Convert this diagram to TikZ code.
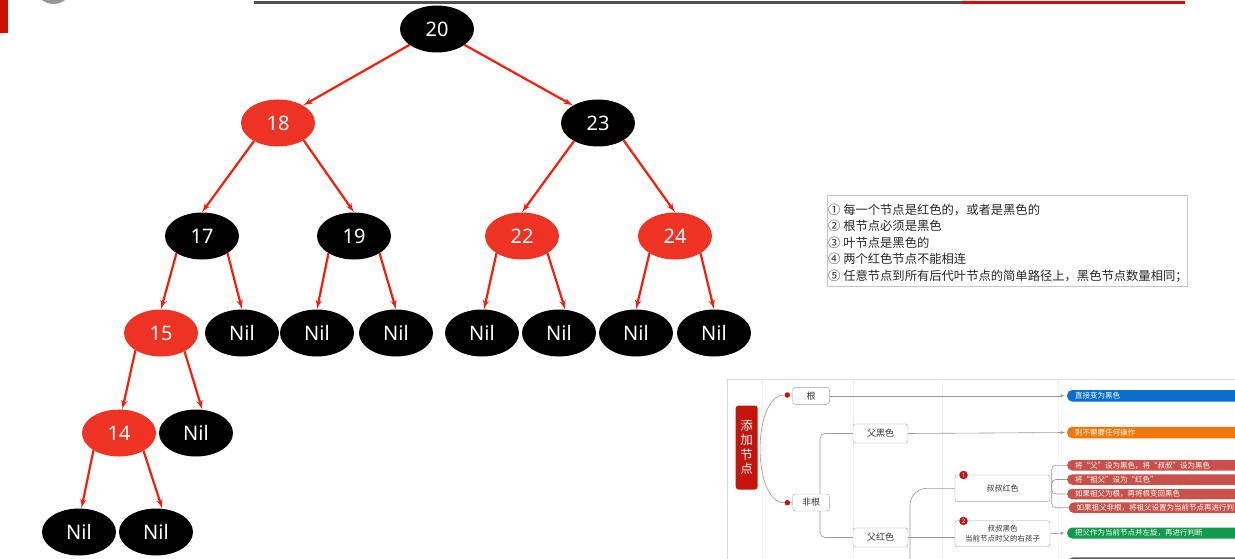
\documentclass[tikz,border=0pt]{standalone}
\usepackage{fontspec}
\setmainfont{Noto Sans}
\newfontfamily\cjk{Noto Sans CJK SC}
\usepackage{tikz}
\usetikzlibrary{shapes, arrows, positioning}
\definecolor{nodered}{RGB}{238,50,36}
\definecolor{edgered}{RGB}{245,30,10}
\definecolor{rootred}{RGB}{197,20,12}
\definecolor{pillred}{RGB}{200,82,75}
\definecolor{pillblue}{RGB}{10,110,205}
\definecolor{pillorange}{RGB}{240,120,10}
\definecolor{pillgreen}{RGB}{15,155,75}
\definecolor{pillgray}{RGB}{90,90,90}
\definecolor{barred}{RGB}{204,17,0}
\definecolor{bargray}{RGB}{80,80,80}

\begin{document}
\begin{tikzpicture}[x=1pt,y=-1pt]
            \tikzset{edge/.style = {->,> = latex', draw=edgered, line width=2.2pt},
                     treenode/.style = {ellipse, minimum width=74pt, minimum height=47pt, inner sep=0pt, text=white, font=\fontsize{20}{24}\selectfont},
                     blacknode/.style = {treenode, fill=black},
                     rednode/.style = {treenode, fill=nodered},
                     mapbox/.style = {draw=gray!75, fill=white, rounded corners=2.5pt, text=black!80, inner sep=0pt, font=\cjk\fontsize{9}{11}\selectfont},
                     conn/.style = {draw=gray!80, line width=0.6pt, > = latex'},
                     pill/.style = {anchor=west, rounded corners=5pt, text=white, minimum height=10.5pt, text width=200pt, inner xsep=8pt, inner ysep=0pt, align=left, font=\cjk\fontsize{7.5}{9}\selectfont},
                     reddot/.style = {circle, fill=rootred, minimum size=5.5pt, inner sep=0pt},
                     badge/.style = {circle, fill=rootred, minimum size=8.5pt, inner sep=0pt, text=white, font=\fontsize{6}{6}\selectfont\bfseries}}
            \useasboundingbox (0,0) rectangle (1235,559);
            \clip (0,0) rectangle (1235,559);
            % frame
            \fill[barred] (0,0) rectangle (8,33);
            \fill[gray!80] (53.5,-14.5) circle (18.5);
            \draw[bargray, line width=3pt] (254,2.2) -- (962,2.2);
            \draw[barred, line width=3pt] (962,2.2) -- (1185,2.2);
            % vertices
            \node[blacknode] (n20) at (437,29) {20};
            \node[rednode] (n18) at (278,123) {18};
            \node[blacknode] (n23) at (598,123) {23};
            \node[blacknode] (n17) at (202,236) {17};
            \node[blacknode] (n19) at (354,236) {19};
            \node[rednode] (n22) at (522,236) {22};
            \node[rednode] (n24) at (675,236) {24};
            \node[rednode] (n15) at (161,333) {15};
            \node[blacknode] (nil17r) at (242,333) {Nil};
            \node[blacknode] (nil19l) at (317,333) {Nil};
            \node[blacknode] (nil19r) at (396,333) {Nil};
            \node[blacknode] (nil22l) at (482,333) {Nil};
            \node[blacknode] (nil22r) at (559,333) {Nil};
            \node[blacknode] (nil24l) at (636,333) {Nil};
            \node[blacknode] (nil24r) at (714,333) {Nil};
            \node[rednode] (n14) at (119,433) {14};
            \node[blacknode] (nil15r) at (196,433) {Nil};
            \node[blacknode] (nil14l) at (79,532) {Nil};
            \node[blacknode] (nil14r) at (156,532) {Nil};
            %edges
            \draw[edge] (n20.-150) to (n18.35);
            \draw[edge] (n20.-30) to (n23.145);
            \draw[edge] (n18.-143) to (n17.north);
            \draw[edge] (n18.-34) to (n19.north);
            \draw[edge] (n23.-143) to (n22.north);
            \draw[edge] (n23.-34) to (n24.north);
            \draw[edge] (n17.-146) to (n15.north);
            \draw[edge] (n17.-34) to (nil17r.north);
            \draw[edge] (n19.-146) to (nil19l.north);
            \draw[edge] (n19.-34) to (nil19r.north);
            \draw[edge] (n22.-146) to (nil22l.85);
            \draw[edge] (n22.-34) to (nil22r.75);
            \draw[edge] (n24.-146) to (nil24l.north);
            \draw[edge] (n24.-34) to (nil24r.north);
            \draw[edge] (n15.-146) to (n14.82);
            \draw[edge] (n15.-38) to (nil15r.75);
            \draw[edge] (n14.-146) to (nil14l.84);
            \draw[edge] (n14.-36) to (nil14r.75);
            % rules
            \node[draw=gray!45, minimum width=360.3pt, minimum height=91pt, anchor=north west, inner sep=0pt] (rulebox) at (826.7,195) {};
            \node[anchor=west, align=left, inner sep=0pt, text=black!85, font=\cjk\fontsize{12.3}{16.4}\selectfont] (rules) at (828,243) {① 每一个节点是红色的，或者是黑色的\\② 根节点必须是黑色\\③ 叶节点是黑色的\\④ 两个红色节点不能相连\\⑤ 任意节点到所有后代叶节点的简单路径上，黑色节点数量相同；};
            % mind map
            \draw[gray!30, fill=white] (727.5,379) rectangle (1245,570);
            \draw[gray!10] (762,380) -- (762,559);
            \draw[gray!10] (853,380) -- (853,559);
            \draw[gray!10] (942,380) -- (942,559);
            \draw[gray!10] (1058,380) -- (1058,559);
            \node[fill=rootred, rounded corners=3pt, minimum width=22pt, minimum height=84pt, inner sep=0pt, text=white, align=center, font=\cjk\fontsize{12.5}{14.5}\selectfont] (add) at (746.7,447.5) {添\\加\\节\\点};
            \node[reddot] (dotgen) at (787.3,395) {};
            \node[reddot] (dotfei) at (787.3,502.7) {};
            \node[mapbox, minimum width=36.6pt, minimum height=17pt] (gen) at (811,395.8) {根};
            \node[mapbox, minimum width=36.6pt, minimum height=17pt] (feigen) at (811,502.5) {非根};
            \node[mapbox, minimum width=55pt, minimum height=19pt] (fuhei) at (880.5,433.5) {父黑色};
            \node[mapbox, minimum width=55pt, minimum height=19pt] (fuhong) at (880.5,537.5) {父红色};
            \node[mapbox, minimum width=95pt, minimum height=26.7pt, font=\cjk\fontsize{8}{10}\selectfont] (shuhong) at (1002.5,488.3) {叔叔红色};
            \node[mapbox, minimum width=95pt, minimum height=26pt, align=center, font=\cjk\fontsize{7.5}{9.5}\selectfont] (shuhei) at (1002.5,533.7) {叔叔黑色\\当前节点时父的右孩子};
            \node[pill, fill=pillblue, minimum height=11.5pt] (pblue) at (1067,395.8) {直接变为黑色};
            \node[pill, fill=pillorange, minimum height=11.5pt] (porange) at (1067,432.5) {则不需要任何操作};
            \node[pill, fill=pillred] (pred1) at (1067,465.3) {将“父”设为黑色，将“叔叔”设为黑色};
            \node[pill, fill=pillred] (pred2) at (1067,479.5) {将“祖父”设为“红色”};
            \node[pill, fill=pillred] (pred3) at (1067,494) {如果祖父为根，再将根变回黑色};
            \node[pill, fill=pillred] (pred4) at (1068.5,507.7) {如果祖父非根，将祖父设置为当前节点再进行判};
            \node[pill, fill=pillgreen, minimum height=11pt] (pgreen) at (1067,533) {把父作为当前节点并左旋，再进行判断};
            \node[pill, fill=pillgray] (pgray) at (1068,562.5) {};
            \coordinate (fhdown) at (910,565);
            %links
            \draw[conn] (dotgen) .. controls (752,395) and (752,503) .. (dotfei);
            \draw[conn] (dotgen) -- (gen);
            \draw[conn] (dotfei) -- (feigen);
            \draw[conn,->] (gen.east) -- ([xshift=-2]pblue.west);
            \draw[conn, rounded corners=5pt] ([xshift=9]feigen.north) |- (fuhei.west);
            \draw[conn, rounded corners=5pt] ([xshift=9]feigen.south) |- (fuhong.west);
            \draw[conn,->] (fuhei.east) -- ([xshift=-2]porange.west);
            \draw[conn, rounded corners=17pt] (fhdown) |- (shuhong.west);
            \draw[conn] (fuhong.east) -- (fuhong.east -| shuhei.west);
            \draw[conn, rounded corners=4pt] ([xshift=1.5]shuhong.east) |- (pred1.west);
            \draw[conn, rounded corners=4pt] ([xshift=1.5]shuhong.east) |- (pred2.west);
            \draw[conn, rounded corners=4pt] ([xshift=1.5]shuhong.east) |- (pred3.west);
            \draw[conn, rounded corners=4pt] ([xshift=1.5]shuhong.east) |- (pred4.west);
            \draw[conn,->] (shuhei.east) -- ([xshift=-2]pgreen.west);
            \node[badge] (bone) at (963.5,475) {1};
            \node[badge] (btwo) at (963.5,521) {2};
\end{tikzpicture}
\end{document}
